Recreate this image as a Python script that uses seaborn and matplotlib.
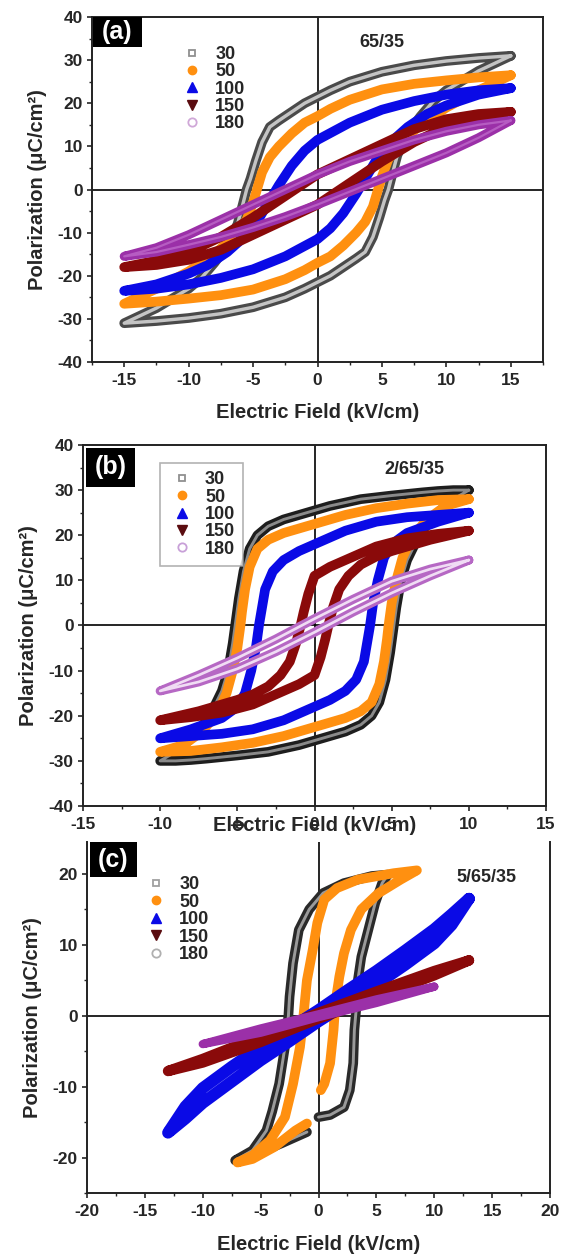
import matplotlib
matplotlib.use("Agg")
import numpy as np
import pandas as pd
import matplotlib.pyplot as plt
import seaborn as sns
from matplotlib.lines import Line2D
from matplotlib.patches import Rectangle
from matplotlib.ticker import MultipleLocator

# ==========================================
# 1. DATA
# ==========================================
temps = ["30", "50", "100", "150", "180"]

# (a) 65/35
a30_E = [15, 12.5, 10, 7.5, 5, 2.5, 1, 0, -1, -2, -3, -3.7, -4.3, -4.8, -5.2, -5.5, -5.8, -6.2, -7, -8, -9, -10, -12.5, -15,
         -12.5, -10, -7.5, -5, -2.5, -1, 0, 1, 2, 3, 3.7, 4.3, 4.8, 5.2, 5.5, 5.8, 6.2, 7, 8, 9, 10, 12.5, 15]
a30_P = [31, 30.5, 29.8, 28.8, 27.3, 25, 23, 21.5, 20, 18, 16, 14.5, 11, 6.5, 2.5, 0, -3.5, -8, -13, -17, -20.5, -23, -27.5, -31,
         -30.5, -29.8, -28.8, -27.3, -25, -23, -21.5, -20, -18, -16, -14.5, -11, -6.5, -2.5, 0, 3.5, 8, 13, 17, 20.5, 23, 27.5, 31]
a50_E = [15, 12.5, 10, 7.5, 5, 2.5, 1, 0, -1, -2, -3, -3.7, -4.3, -4.7, -5, -5.5, -6.5, -8, -10, -12.5, -15,
         -12.5, -10, -7.5, -5, -2.5, -1, 0, 1, 2, 3, 3.7, 4.3, 4.7, 5, 5.5, 6.5, 8, 10, 12.5, 15]
a50_P = [26.5, 26, 25.3, 24.5, 23.2, 20.8, 18.7, 17, 15.5, 13, 10, 7.5, 4, 0, -3, -7, -11, -15, -19, -23, -26.5,
         -26, -25.3, -24.5, -23.2, -20.8, -18.7, -17, -15.5, -13, -10, -7.5, -4, 0, 3, 7, 11, 15, 19, 23, 26.5]
a100_E = [15, 12.5, 10, 7.5, 5, 2.5, 0, -1, -2, -3, -3.5, -4.5, -5.5, -7, -8.5, -10, -12.5, -15,
          -12.5, -10, -7.5, -5, -2.5, 0, 1, 2, 3, 3.5, 4.5, 5.5, 7, 8.5, 10, 12.5, 15]
a100_P = [23.5, 23, 22, 20.5, 18.5, 15.5, 11.5, 9, 5.5, 1, -1.5, -6.5, -10.5, -14.5, -17.5, -19.5, -22, -23.5,
          -23, -22, -20.5, -18.5, -15.5, -11.5, -9, -5.5, -1, 1.5, 6.5, 10.5, 14.5, 17.5, 19.5, 22, 23.5]
a150_E = [15, 12.5, 10, 7.5, 5, 2.5, 0, -2.5, -5, -7.5, -10, -12.5, -15,
          -12.5, -10, -7.5, -5, -2.5, 0, 2.5, 5, 7.5, 10, 12.5, 15]
a150_P = [18, 17.5, 16.3, 14, 10.5, 7, 3.5, -1.5, -6.5, -11, -14.5, -16.5, -18,
          -17.5, -16.3, -14, -10.5, -7, -3.5, 1.5, 6.5, 11, 14.5, 16.5, 18]
a180_E = [15, 12.5, 10, 7.5, 5, 2.5, 0, -2.5, -5, -7.5, -10, -12.5, -15,
          -12.5, -10, -7.5, -5, -2.5, 0, 2.5, 5, 7.5, 10, 12.5, 15]
a180_P = [16, 15, 13.5, 11.5, 9, 6.5, 3.5, 0, -3.5, -7, -10.5, -13.5, -15.5,
          -14.5, -12.8, -11, -8.8, -6.3, -3.5, -0.5, 2.5, 5.5, 8.5, 12, 16]

# (b) 2/65/35
b30_E = [10, 9, 8, 7, 5, 3, 1, 0, -1, -2, -3, -3.7, -4.2, -4.6, -4.9, -5.1, -5.3, -5.6, -6, -6.5, -7.2, -8, -9, -10,
         -9, -8, -7, -5, -3, -1, 0, 1, 2, 3, 3.7, 4.2, 4.6, 4.9, 5.1, 5.3, 5.6, 6, 6.5, 7.2, 8, 9, 10]
b30_P = [30, 30, 29.8, 29.5, 28.8, 28, 26.5, 25.5, 24.5, 23.5, 22, 20, 17, 12, 6, 1, -4, -10, -14.5, -18, -22, -25, -28, -30,
         -30, -29.8, -29.5, -28.8, -28, -26.5, -25.5, -24.5, -23.5, -22, -20, -17, -12, -6, -1, 4, 10, 14.5, 18, 22, 25, 28, 30]
b50_E = [10, 8, 6, 4, 2, 0, -2, -3, -3.7, -4.2, -4.5, -4.7, -4.8, -5, -5.3, -5.7, -6.3, -7.3, -8.5, -10,
         -8, -6, -4, -2, 0, 2, 3, 3.7, 4.2, 4.5, 4.7, 4.8, 5, 5.3, 5.7, 6.3, 7.3, 8.5, 10]
b50_P = [28, 27.8, 27, 26, 24.5, 22.5, 20.5, 19, 17, 13, 8, 3, 0, -5, -10, -15, -19.5, -23.5, -26.5, -28,
         -27.8, -27, -26, -24.5, -22.5, -20.5, -19, -17, -13, -8, -3, 0, 5, 10, 15, 19.5, 23.5, 26.5, 28]
b100_E = [10, 8, 6, 4, 2, 0, -1, -2, -2.7, -3.2, -3.4, -3.6, -3.8, -4.1, -4.5, -5, -6, -8, -10,
          -8, -6, -4, -2, 0, 1, 2, 2.7, 3.2, 3.4, 3.6, 3.8, 4.1, 4.5, 5, 6, 8, 10]
b100_P = [25, 24.5, 24, 23, 21, 18, 16.5, 14.5, 12, 8, 4, 0, -5, -10, -15, -18, -20.5, -23, -25,
          -24.5, -24, -23, -21, -18, -16.5, -14.5, -12, -8, -4, 0, 5, 10, 15, 18, 20.5, 23, 25]
b150_E = [10, 8, 6, 4, 2, 1, 0, -0.4, -0.7, -0.9, -1.2, -1.6, -2.2, -3, -4, -5, -7.5, -10,
          -8, -6, -4, -2, -1, 0, 0.4, 0.7, 0.9, 1.2, 1.6, 2.2, 3, 4, 5, 7.5, 10]
b150_P = [21, 20.3, 19.3, 17.5, 14.5, 13, 11, 7, 3, 0, -4, -8, -11, -13.5, -15.3, -16.5, -19, -21,
          -20.3, -19.3, -17.5, -14.5, -13, -11, -7, -3, 0, 4, 8, 11, 13.5, 15.3, 16.5, 19, 21]
b180_E = [10, 7.5, 5, 2.5, 0, -2.5, -5, -7.5, -10, -7.5, -5, -2.5, 0, 2.5, 5, 7.5, 10]
b180_P = [14.5, 12.5, 9.8, 5.8, 1.5, -3, -7.2, -11, -14.5, -12.5, -9.6, -5.8, -1.5, 3, 7.2, 11, 14.5]

# (c) 5/65/35
c30_E = [0, 1, 2.2, 2.7, 3, 3.1, 3.3, 3.4, 3.7, 4.3, 4.9, 5.5, 6,
         4.6, 2.2, 0.4, -0.8, -1.7, -2.2, -2.5, -2.6, -2.9, -3.4, -4, -4.5, -5.7, -7.2,
         -5.7, -3.2, -1]
c30_P = [-14.3, -14, -12.9, -10.5, -6.7, -2, 1.7, 5, 8.3, 12.1, 15.9, 18.7, 19.9,
         19.7, 18.7, 17.3, 15, 12.1, 7.4, 2.7, 0, -4.4, -9.6, -13.5, -16.2, -19, -20.4,
         -19.7, -18, -16.4]
c50_E = [0.2, 0.5, 1, 1.3, 1.45, 1.8, 2.2, 2.8, 3.7, 5.2, 7.1, 8.5,
         6.5, 3.4, 1.6, 0.5, -0.1, -0.5, -1, -1.3, -1.6, -2.2, -2.9, -4.2, -5.7, -7,
         -5.7, -3.8, -2, -1]
c50_P = [-10.5, -9.6, -6.7, -2, 1.7, 5.5, 8.8, 12.1, 15, 17.3, 19.2, 20.5,
         20.1, 19.2, 18, 16.4, 13.1, 9.3, 5, 0, -4.4, -9.6, -14.3, -17.6, -19.7, -20.7,
         -20.2, -18.5, -16.2, -15.2]
c100_E = [13, 11.5, 10, 7.5, 5, 2.5, 0, -2.5, -5, -7.5, -10, -11.5, -13,
          -11.5, -10, -7.5, -5, -2.5, 0, 2.5, 5, 7.5, 10, 11.5, 13]
c100_P = [16.5, 14.3, 12.2, 9.2, 6.3, 3.6, 0.8, -1.8, -4.4, -7.2, -10.2, -12.8, -16.5,
          -14.5, -12.3, -9.3, -6.3, -3.6, -0.8, 1.8, 4.4, 7.2, 10.2, 12.8, 16.5]
c150_E = [13, 10, 5, 0, -5, -10, -13, -10, -5, 0, 5, 10, 13]
c150_P = [7.8, 6.3, 3.4, 0.4, -2.9, -6.1, -7.8, -6.6, -3.7, -0.4, 2.6, 5.7, 7.8]
c180_E = [10, 5, 0, -5, -10, -5, 0, 5, 10]
c180_P = [4.1, 2.3, 0.2, -1.8, -4, -2.4, -0.2, 1.8, 4.1]

# ==========================================
# 2. STYLE
# ==========================================
sns.set_style("ticks")
plt.rcParams['font.family'] = ['Liberation Sans', 'DejaVu Sans']
plt.rcParams['font.weight'] = 'bold'
plt.rcParams['axes.labelweight'] = 'bold'
plt.rcParams['axes.unicode_minus'] = False

ORANGE = '#ff9010'
BLUE = '#0a0ae6'
DRED = '#8a0a0a'
PURPLE = '#9b30a8'

W, H = 561, 1254
fig = plt.figure(figsize=(W / 100, H / 100), dpi=100)


def rect(L, R, T, B):
    return [L / W, 1 - B / H, (R - L) / W, (B - T) / H]


def draw_loop(ax, E, P, color, inner=None, lw=7, inner_frac=0.3):
    df = pd.DataFrame({'E': E, 'P': P})
    sns.lineplot(data=df, x='E', y='P', sort=False, estimator=None, color=color, lw=lw,
                 solid_joinstyle='round', solid_capstyle='round', ax=ax, zorder=3)
    if inner:
        sns.lineplot(data=df, x='E', y='P', sort=False, estimator=None, color=inner, lw=lw * inner_frac,
                     solid_joinstyle='round', solid_capstyle='round', ax=ax, zorder=3)


def style_axes(ax, xlim, ylim, xlabpad, top_spine=True):
    ax.set_xlim(*xlim)
    ax.set_ylim(*ylim)
    ax.axhline(0, color='black', lw=1.2, zorder=1)
    ax.axvline(0, color='black', lw=1.2, zorder=1)
    ax.xaxis.set_major_locator(MultipleLocator(5))
    ax.xaxis.set_minor_locator(MultipleLocator(2.5))
    ax.yaxis.set_major_locator(MultipleLocator(10))
    ax.yaxis.set_minor_locator(MultipleLocator(5))
    ax.tick_params(which='major', direction='out', length=3.6, width=1.2, labelsize=12.5)
    ax.tick_params(which='minor', direction='out', length=2.2, width=1.0)
    ax.tick_params(axis='x', which='major', pad=4.5)
    ax.tick_params(axis='y', which='major', pad=3)
    for s in ax.spines.values():
        s.set_linewidth(1.4)
        s.set_color('#222222')
    ax.spines['top'].set_visible(top_spine)
    ax.set_xlabel("Electric Field (kV/cm)", fontsize=14.5, fontweight='bold', labelpad=xlabpad)
    ax.set_ylabel("Polarization (μC/cm²)", fontsize=14.5, fontweight='bold', labelpad=8)


def panel_tag(ax, tag, x0, x1, y0, y1):
    ax.add_patch(Rectangle((x0, y0), x1 - x0, y1 - y0, transform=ax.transAxes,
                           facecolor='black', edgecolor='none', zorder=6, clip_on=False))
    ax.text((x0 + x1) / 2, (y0 + y1) / 2, tag, transform=ax.transAxes, color='white',
            fontsize=18, fontweight='bold', ha='center', va='center', zorder=7)


def add_legend(ax, anchor, frame, c30, c180):
    handles = [
        Line2D([], [], ls='none', marker='s', ms=5, mfc='white', mec=c30, mew=1.3),
        Line2D([], [], ls='none', marker='o', ms=6, mfc=ORANGE, mec=ORANGE),
        Line2D([], [], ls='none', marker='^', ms=6.5, mfc=BLUE, mec=BLUE),
        Line2D([], [], ls='none', marker='v', ms=6.5, mfc='#5a0c10', mec='#5a0c10'),
        Line2D([], [], ls='none', marker='o', ms=6, mfc='white', mec=c180, mew=1.3),
    ]
    leg = ax.legend(handles, temps, loc='upper left', bbox_to_anchor=anchor, frameon=frame,
                    fancybox=False, borderaxespad=0, borderpad=0.45, handlelength=1.5,
                    handletextpad=0.55, labelspacing=0.02, prop={'weight': 'bold', 'size': 13})
    if frame:
        leg.get_frame().set_edgecolor('#a0a0a0')
        leg.get_frame().set_linewidth(1.2)
    leg.set_zorder(8)


# ==========================================
# 3. PANEL (a)
# ==========================================
ax_a = fig.add_axes(rect(92, 543, 17, 362))
draw_loop(ax_a, a30_E, a30_P, '#4a4a4a', inner='#c4c4c4', inner_frac=0.35)
draw_loop(ax_a, a50_E, a50_P, ORANGE)
draw_loop(ax_a, a100_E, a100_P, BLUE)
draw_loop(ax_a, a150_E, a150_P, DRED)
draw_loop(ax_a, a180_E, a180_P, PURPLE, inner='#b65cc2', lw=6.5, inner_frac=0.25)
style_axes(ax_a, (-17.5, 17.5), (-40, 40), 10.5)
panel_tag(ax_a, "(a)", 0.002, 0.111, 0.913, 1.0)
add_legend(ax_a, (0.173, 0.94), False, '#909090', '#d0a8d8')
ax_a.text(5, 34, "65/35", fontsize=13, fontweight='bold', ha='center', va='center')

# ==========================================
# 4. PANEL (b)
# ==========================================
ax_b = fig.add_axes(rect(83, 546, 445, 806))
draw_loop(ax_b, b30_E, b30_P, '#1e1e1e', inner='#8a8a8a')
draw_loop(ax_b, b50_E, b50_P, ORANGE)
draw_loop(ax_b, b100_E, b100_P, BLUE)
draw_loop(ax_b, b150_E, b150_P, DRED)
draw_loop(ax_b, b180_E, b180_P, '#b668c4', inner='#f0dcf4', lw=6.5)
style_axes(ax_b, (-15, 15), (-40, 40), -12)
panel_tag(ax_b, "(b)", 0.006, 0.112, 0.884, 0.992)
add_legend(ax_b, (0.166, 0.95), True, '#909090', '#c8a0d8')
ax_b.text(6.5, 34.5, "2/65/35", fontsize=13, fontweight='bold', ha='center', va='center')

# ==========================================
# 5. PANEL (c)
# ==========================================
ax_c = fig.add_axes(rect(87, 550, 842, 1193))
draw_loop(ax_c, c30_E, c30_P, '#2a2a2a', inner='#9a9a9a')
draw_loop(ax_c, c50_E, c50_P, ORANGE)
draw_loop(ax_c, c100_E, c100_P, BLUE, lw=8.5)
draw_loop(ax_c, c150_E, c150_P, DRED, lw=7.5)
draw_loop(ax_c, c180_E, c180_P, PURPLE, lw=6)
style_axes(ax_c, (-20, 20), (-25, 24.5), 11, top_spine=False)
panel_tag(ax_c, "(c)", 0.006, 0.108, 0.9, 1.0)
add_legend(ax_c, (0.102, 0.925), False, '#a0a0a0', '#b0b0b0')
ax_c.text(14.5, 19.5, "5/65/35", fontsize=13, fontweight='bold', ha='center', va='center')

fig.savefig("out.png", dpi=100, facecolor='white')
print("saved out.png")
